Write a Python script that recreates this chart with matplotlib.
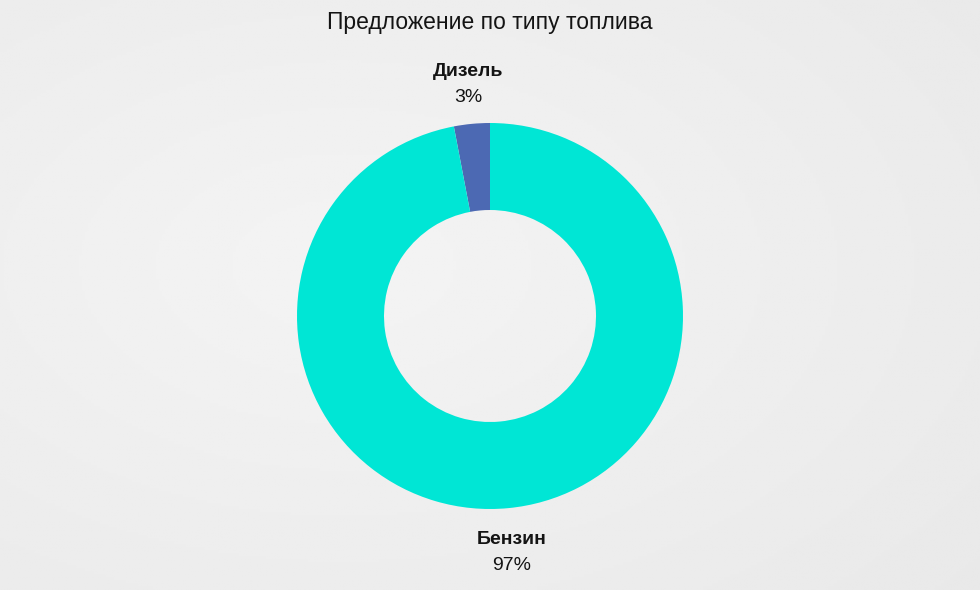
import numpy as np
import matplotlib
matplotlib.use("Agg")
import matplotlib.pyplot as plt

plt.rcParams['font.family'] = ['Liberation Sans', 'DejaVu Sans']

# data
fuel_types = ["Дизель", "Бензин"]
shares = [3, 97]
colors = ["#4c69b3", "#00e6d5"]
title = "Предложение по типу топлива"

W, H = 980, 590
fig = plt.figure(figsize=(W / 100, H / 100), dpi=100)

# soft light-gray background
bg = fig.add_axes([0, 0, 1, 1], zorder=-1)
yy, xx = np.mgrid[0:1:200j, 0:1:330j]
shade = 0.955 - 0.05 * np.sqrt((xx - 0.35) ** 2 + (yy - 0.45) ** 2)
bg.imshow(shade, cmap="gray", vmin=0, vmax=1, aspect="auto", extent=[0, 1, 0, 1])
bg.axis("off")

# donut, centre (490, 316) px, outer radius 193 px, inner 106 px
cx, cy, r_out, r_in = 490, 316, 193, 106
ax = fig.add_axes([(cx - r_out) / W, (H - cy - r_out) / H, 2 * r_out / W, 2 * r_out / H])
ax.pie(shares, colors=colors, startangle=90, counterclock=True,
       radius=1, wedgeprops=dict(width=(r_out - r_in) / r_out, linewidth=0))
ax.set_xlim(-1, 1)
ax.set_ylim(-1, 1)
ax.axis("off")

fig.text(0.5, 1 - 22 / H, title, ha="center", va="center", fontsize=16.5, color="#141414")

label_pos = [(468, 72), (512, 539)]
for name, val, (lx, ly) in zip(fuel_types, shares, label_pos):
    fig.text(lx / W, 1 - ly / H, name, ha="center", va="center",
             fontsize=14, fontweight="bold", color="#141414")
    fig.text(lx / W, 1 - (ly + 26) / H, f"{val}%", ha="center", va="center",
             fontsize=14, color="#141414")

fig.savefig("out.png", dpi=100)
